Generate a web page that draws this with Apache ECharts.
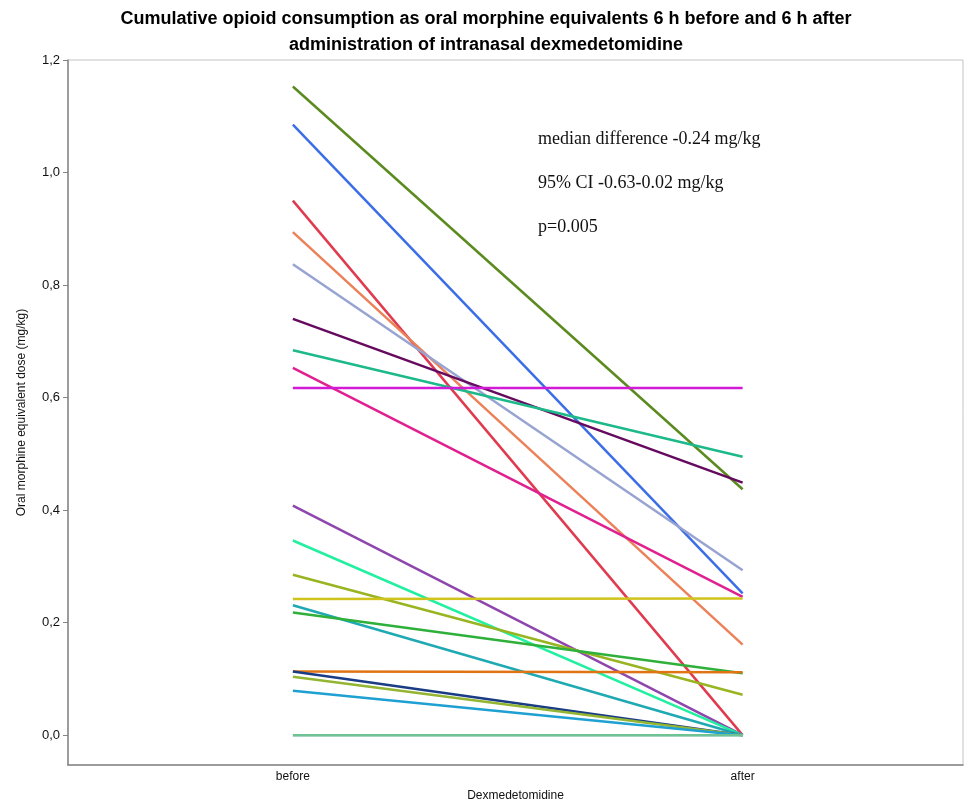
<!DOCTYPE html>
<html>
<head>
<meta charset="utf-8">
<script src="https://cdn.jsdelivr.net/npm/echarts@6/dist/echarts.min.js"></script>
<style>
  html, body { margin: 0; padding: 0; background: #fff; }
  #chart { width: 972px; height: 807px; }
</style>
</head>
<body>
<div id="chart"></div>
<script>
// time points on the x axis
const timeLabels = ['before', 'after'];
const yTicks = [0, 0.2, 0.4, 0.6, 0.8, 1.0, 1.2];

// one entry per patient: dose 6 h before / 6 h after (mg/kg)
const beforeVals = [1.153, 1.085, 0.950, 0.894, 0.837, 0.740, 0.684, 0.653, 0.617, 0.408, 0.346,
                    0.285, 0.242, 0.231, 0.218, 0.113, 0.113, 0.104, 0.079, 0, 0];
const afterVals  = [0.437, 0.252, 0, 0.161, 0.293, 0.449, 0.495, 0.246, 0.617, 0, 0,
                    0.072, 0.243, 0, 0.110, 0.112, 0, 0, 0, 0, 0];

const lineColors = ['#5b8a1f', '#3b6ee6', '#e03a4e', '#ec8058', '#97a3d1', '#650a5e', '#1db98a',
                    '#e0208f', '#d21bd6', '#8e46ad', '#22f0a0', '#98b521', '#cfc31c', '#1fa9b3',
                    '#2fb03a', '#e07313', '#1a3c85', '#93b532', '#1fa0d2', '#c3cbe0', '#6fc293'];

const statLines = ['median difference -0.24 mg/kg', '95% CI -0.63-0.02 mg/kg', 'p=0.005'];

var chart = echarts.init(document.getElementById('chart'));

var series = beforeVals.map(function (b, i) {
    return {
        type: 'line',
        data: [[1, b], [2, afterVals[i]]],
        showSymbol: false,
        silent: true,
        lineStyle: { width: 2.5, color: lineColors[i] },
        itemStyle: { color: lineColors[i] }
    };
});

var option = {
    animation: false,
    backgroundColor: '#fff',
    title: {
        text: 'Cumulative opioid consumption as oral morphine equivalents 6 h before and 6 h after\nadministration of intranasal dexmedetomidine',
        left: 'center',
        top: 1,
        textStyle: {
            fontFamily: 'Liberation Sans',
            fontWeight: 'bold',
            fontSize: 18,
            lineHeight: 26,
            color: '#000'
        }
    },
    grid: {
        left: 68, right: 9, top: 60, bottom: 41,
        show: true,
        borderColor: '#c4c4c4',
        borderWidth: 1
    },
    xAxis: {
        type: 'value',
        min: 0.5,
        max: 2.49,
        name: 'Dexmedetomidine',
        nameLocation: 'middle',
        nameGap: 25,
        nameTextStyle: { fontFamily: 'Liberation Sans', fontSize: 12, color: '#111' },
        axisLine: { show: true, onZero: false, lineStyle: { color: '#858585', width: 1.5 } },
        axisTick: { show: false },
        splitLine: { show: false },
        axisLabel: {
            customValues: [1, 2],
            formatter: function (v) { return timeLabels[Math.round(v) - 1]; },
            fontFamily: 'Liberation Sans',
            fontSize: 12,
            color: '#111',
            margin: 6
        }
    },
    yAxis: {
        type: 'value',
        min: -0.053,
        max: 1.2,
        name: 'Oral morphine equivalent dose (mg/kg)',
        nameLocation: 'middle',
        nameGap: 40,
        nameTextStyle: { fontFamily: 'Liberation Sans', fontSize: 12, color: '#111' },
        axisLine: { show: true, onZero: false, lineStyle: { color: '#858585', width: 1.5 } },
        axisTick: { show: true, customValues: yTicks, length: 5, lineStyle: { color: '#858585' } },
        splitLine: { show: false },
        axisLabel: {
            customValues: yTicks,
            formatter: function (v) { return v.toFixed(1).replace('.', ','); },
            fontFamily: 'Liberation Sans',
            fontSize: 13,
            color: '#111',
            margin: 8
        }
    },
    graphic: statLines.map(function (t, i) {
        return {
            type: 'text',
            left: 538,
            top: 130 + i * 44,
            silent: true,
            style: {
                text: t,
                fontFamily: 'Liberation Serif',
                fontSize: 18,
                fill: '#111'
            }
        };
    }),
    series: series
};

chart.setOption(option);
</script>
</body>
</html>
